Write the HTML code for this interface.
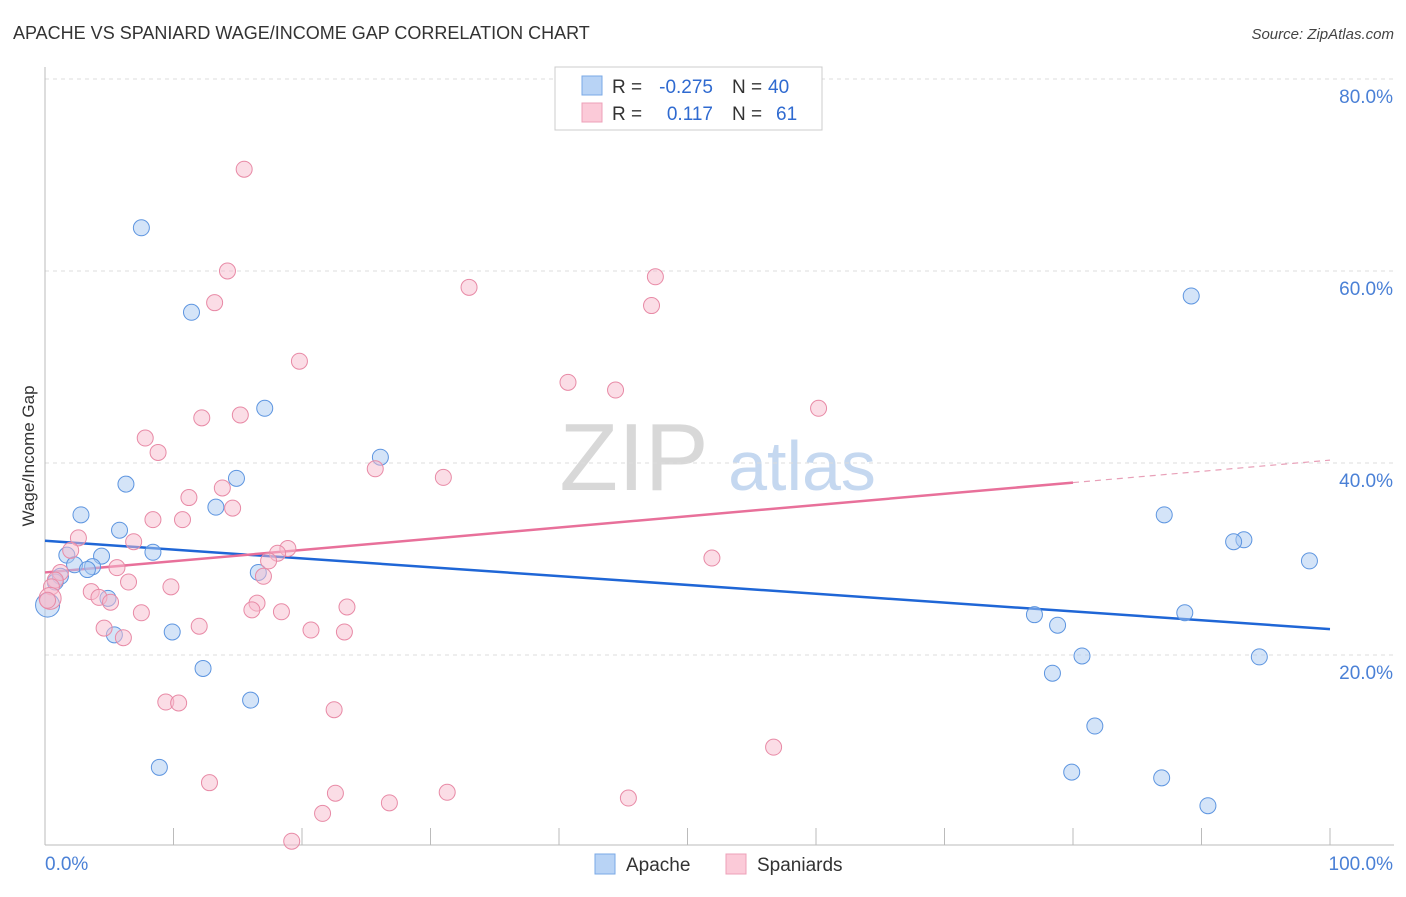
<!DOCTYPE html>
<html><head><meta charset="utf-8"><style>
body{margin:0;background:#fff;font-family:"Liberation Sans",sans-serif;}
svg text{font-family:"Liberation Sans",sans-serif;}
</style></head><body>
<svg id="chart" width="1406" height="892" viewBox="0 0 1406 892">
<text x="13" y="39" font-size="18" fill="#333">APACHE VS SPANIARD WAGE/INCOME GAP CORRELATION CHART</text>
<text x="1394" y="39" font-size="15" fill="#444" text-anchor="end" font-style="italic">Source: ZipAtlas.com</text>
<g>
<text x="634" y="490" font-size="96" fill="#d8d8d8" font-family="Liberation Serif" text-anchor="middle">ZIP</text>
<text x="802" y="490" font-size="70" fill="#c5d8f0" text-anchor="middle">atlas</text>
</g>
<g id="grid"></g><g id="axes"></g><g id="lines"></g><g id="pts"></g>
<text transform="translate(34,456) rotate(-90)" font-size="17" fill="#333" text-anchor="middle">Wage/Income Gap</text>
<g>
<rect x="555" y="67" width="267" height="63" fill="#fff" stroke="#ccc"/>
<rect x="582" y="76" width="20" height="19" fill="#b8d3f5" stroke="#7aa8e6"/>
<rect x="582" y="103" width="20" height="19" fill="#fbcad8" stroke="#eea0b8"/>
<text x="612" y="93" font-size="19" fill="#333">R =</text>
<text x="713" y="93" font-size="19" fill="#2f6ad0" text-anchor="end">-0.275</text>
<text x="732" y="93" font-size="19" fill="#333">N =</text>
<text x="768" y="93" font-size="19" fill="#2f6ad0">40</text>
<text x="612" y="120" font-size="19" fill="#333">R =</text>
<text x="713" y="120" font-size="19" fill="#2f6ad0" text-anchor="end">0.117</text>
<text x="732" y="120" font-size="19" fill="#333">N =</text>
<text x="776" y="120" font-size="19" fill="#2f6ad0">61</text>
</g>
<g>
<rect x="595" y="854" width="20" height="20" fill="#b8d3f5" stroke="#7aa8e6"/>
<text x="626" y="871" font-size="19" fill="#333">Apache</text>
<rect x="726" y="854" width="20" height="20" fill="#fbcad8" stroke="#eea0b8"/>
<text x="757" y="871" font-size="19" fill="#333">Spaniards</text>
</g>
</svg>
<script>
const yTicks=[20,40,60,80];
const yTickLabels=["20.0%","40.0%","60.0%","80.0%"];
const xTickLabels=["0.0%","100.0%"];
const apacheX=[7.5,11.4,17.1,26.1,14.9,6.3,13.3,2.8,5.8,8.4,1.7,4.4,2.3,3.7,3.3,1.2,0.8,16.6,4.9,5.4,9.9,12.3,16.0,8.9,0.2,89.2,87.1,93.3,92.5,98.4,77.0,78.8,88.7,80.7,94.5,78.4,81.7,79.9,86.9,90.5];
const apacheY=[64.5,55.7,45.7,40.6,38.4,37.8,35.4,34.6,33.0,30.7,30.4,30.3,29.4,29.2,28.9,28.2,27.6,28.6,25.9,22.1,22.4,18.6,15.3,8.3,25.2,57.4,34.6,32.0,31.8,29.8,24.2,23.1,24.4,19.9,19.8,18.1,12.6,7.8,7.2,4.3];
const spanX=[15.5,14.2,33.0,47.5,13.2,47.2,19.8,40.7,44.4,60.2,12.2,15.2,7.8,8.8,25.7,31.0,13.8,11.2,14.6,8.4,10.7,2.6,2.0,6.9,18.9,18.1,17.4,51.9,5.6,1.2,0.8,17.0,6.5,0.5,3.6,4.2,5.1,9.8,16.5,23.5,7.5,16.1,18.4,12.0,4.6,20.7,23.3,6.1,9.4,10.4,22.5,56.7,12.8,22.6,31.3,26.8,45.4,21.6,19.2,0.4,0.2];
const spanY=[70.6,60.0,58.3,59.4,56.7,56.4,50.6,48.4,47.6,45.7,44.7,45.0,42.6,41.1,39.4,38.5,37.4,36.4,35.3,34.1,34.1,32.2,30.9,31.8,31.1,30.6,29.8,30.1,29.1,28.6,27.8,28.2,27.6,27.1,26.6,26.0,25.5,27.1,25.4,25.0,24.4,24.7,24.5,23.0,22.8,22.6,22.4,21.8,15.1,15.0,14.3,10.4,6.7,5.6,5.7,4.6,5.1,3.5,0.6,25.9,25.7];
const apacheTrend=[31.9,22.7];
const spanTrend=[28.6,40.3];
const spanSolidEnd=80;
const NS="http://www.w3.org/2000/svg";
const X=v=>45+v*12.85, Y=v=>847-v*9.6;
function mk(t,a,p){const e=document.createElementNS(NS,t);for(const k in a)e.setAttribute(k,a[k]);p.appendChild(e);return e;}
const grid=document.getElementById('grid'),axes=document.getElementById('axes'),lines=document.getElementById('lines'),pts=document.getElementById('pts');
yTicks.forEach((t,i)=>{
 const l=mk('line',{x1:45,x2:1394,y1:Y(t),y2:Y(t),stroke:'#ddd','stroke-dasharray':'4,4'},grid);
 
 
 const tx=mk('text',{x:1393,y:Y(t)+24,'font-size':19,fill:'#4a80d6','text-anchor':'end'},axes);
 tx.textContent=yTickLabels[i];
 
 
});
mk('line',{x1:45,x2:45,y1:67,y2:845,stroke:'#bbb'},axes);
mk('line',{x1:45,x2:1394,y1:845,y2:845,stroke:'#bbb'},axes);
for(let i=0;i<=10;i++){const t=mk('line',{x1:X(i*10),x2:X(i*10),y1:828,y2:845,stroke:'#bbb'},axes);
 
 }
const xl0=mk('text',{x:45,y:870,'font-size':19,fill:'#4a80d6'},axes);xl0.textContent=xTickLabels[0];


const xl1=mk('text',{x:1393,y:870,'font-size':19,fill:'#4a80d6','text-anchor':'end'},axes);xl1.textContent=xTickLabels[1];


function pt(x,y,fill,stroke,name,r){const c=mk('circle',{cx:X(x),cy:Y(y),r:r,fill:fill,'fill-opacity':0.5,stroke:stroke,'stroke-width':1},pts);
 
 }
apacheX.forEach((x,i)=>pt(x,apacheY[i],'#a9c9f2','#5d95e0','apache-point',i==24?12:8));
spanX.forEach((x,i)=>pt(x,spanY[i],'#f8bccd','#e88aa6','spaniards-point',i==59?11:8));
const bl=mk('line',{x1:X(0),y1:Y(apacheTrend[0]),x2:X(100),y2:Y(apacheTrend[1]),stroke:'#1f66d6','stroke-width':2.5},lines);


const pm=spanTrend[0]+(spanTrend[1]-spanTrend[0])*spanSolidEnd/100;
const pl=mk('line',{x1:X(0),y1:Y(spanTrend[0]),x2:X(spanSolidEnd),y2:Y(pm),stroke:'#e8709a','stroke-width':2.5},lines);


const pd=mk('line',{x1:X(spanSolidEnd),y1:Y(pm),x2:X(100),y2:Y(spanTrend[1]),stroke:'#e8a0b8','stroke-width':1.2,'stroke-dasharray':'6,5'},lines);


</script>
</body></html>
